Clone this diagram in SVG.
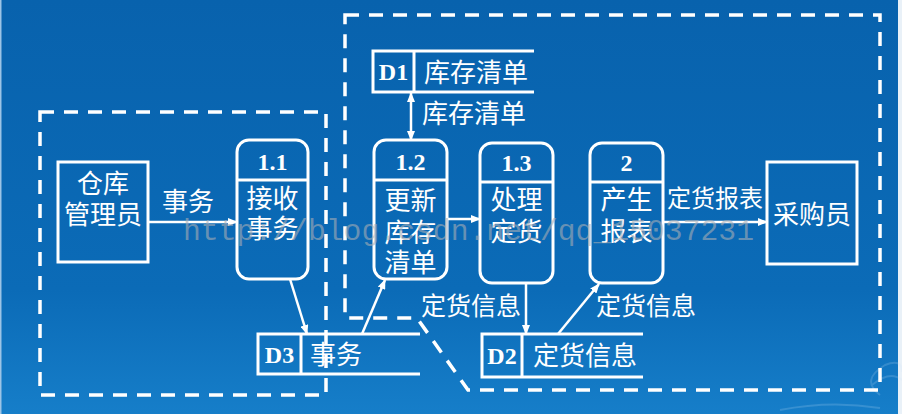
<svg xmlns="http://www.w3.org/2000/svg" width="902" height="414" viewBox="0 0 902 414">
<defs>
<linearGradient id="bg" x1="0" y1="0" x2="0" y2="1">
<stop offset="0" stop-color="#0862ad"/>
<stop offset="0.7" stop-color="#0b6bb7"/>
<stop offset="1" stop-color="#167ec9"/>
</linearGradient>
<marker id="ah" markerWidth="10" markerHeight="8" refX="9" refY="4" orient="auto-start-reverse" markerUnits="userSpaceOnUse">
<path d="M0,0 L10,4 L0,8 Z" fill="#fff"/>
</marker>
<style>
.box{fill:none;stroke:#fff;stroke-width:3}
.ln{fill:none;stroke:#fff;stroke-width:3}
.dash{fill:none;stroke:#fff;stroke-width:3.5;stroke-dasharray:14 10}
.ar{fill:none;stroke:#fff;stroke-width:2.5;marker-end:url(#ah)}
.t{font-family:"Liberation Serif","Noto Sans CJK SC",serif;fill:#fff;font-size:26px;text-anchor:middle}
.s{text-anchor:start}
.l{font-size:25px}
.m{font-size:24px}
.b{font-weight:bold;font-size:24px}
</style>
</defs>
<rect x="0" y="0" width="902" height="414" fill="url(#bg)"/>
<rect x="0" y="0" width="1.5" height="414" fill="#9cc4e6"/>
<rect x="898" y="0" width="4" height="414" fill="#e9f1f8"/>
<g opacity="0.18" fill="none" stroke="#cfe6fb" stroke-width="2">
<path d="M880,395 Q860,380 885,365 Q902,358 902,372"/>
<path d="M780,410 Q830,400 880,408"/>
<path d="M872,385 Q890,370 902,380"/>
</g>

<g id="boundaries">
<rect class="dash" x="40" y="112" width="286" height="283"/>
<path class="dash" d="M345,15 H880 V390 H468 L417,318 H345 Z"/>
</g>

<g id="connectors">
<line class="ar" x1="148" y1="222" x2="237" y2="222"/>
<line class="ar" x1="447" y1="219" x2="480" y2="219"/>
<line class="ar" x1="663" y1="222" x2="767" y2="222"/>
<line class="ar" x1="411" y1="93" x2="411" y2="140" style="marker-start:url(#ah)"/>
<line class="ar" x1="290" y1="279" x2="307" y2="334"/>
<line class="ar" x1="362" y1="334" x2="385" y2="280"/>
<line class="ar" x1="526" y1="283" x2="526" y2="334"/>
<line class="ar" x1="558" y1="334" x2="599" y2="284"/>
<text class="t" x="188" y="211">事务</text>
<text class="t m" x="715" y="207">定货报表</text>
<text class="t s" x="422" y="123">库存清单</text>
<text class="t l s" x="421" y="315">定货信息</text>
<text class="t l s" x="596" y="315">定货信息</text>
</g>

<g id="warehouse-manager">
<rect class="box" x="58" y="162" width="90" height="100"/>
<text class="t" x="103" y="193">仓库</text>
<text class="t" x="103" y="224">管理员</text>
</g>

<g id="p1-1">
<rect class="box" x="237" y="140" width="71" height="139" rx="12"/>
<line class="ln" x1="237" y1="180" x2="308" y2="180"/>
<text class="t b" x="272.5" y="170">1.1</text>
<text class="t" x="272.5" y="208">接收</text>
<text class="t" x="272.5" y="238">事务</text>
</g>

<g id="p1-2">
<rect class="box" x="374" y="140" width="73" height="139" rx="12"/>
<line class="ln" x1="374" y1="180" x2="447" y2="180"/>
<text class="t b" x="410.5" y="170">1.2</text>
<text class="t" x="410.5" y="210">更新</text>
<text class="t" x="410.5" y="242">库存</text>
<text class="t" x="410.5" y="272">清单</text>
</g>

<g id="p1-3">
<rect class="box" x="480" y="143" width="73" height="140" rx="12"/>
<line class="ln" x1="480" y1="182" x2="553" y2="182"/>
<text class="t b" x="516.5" y="171">1.3</text>
<text class="t" x="516.5" y="209">处理</text>
<text class="t" x="516.5" y="241">定货</text>
</g>

<g id="p2">
<rect class="box" x="590" y="143" width="73" height="140" rx="12"/>
<line class="ln" x1="590" y1="182" x2="663" y2="182"/>
<text class="t b" x="626.5" y="171">2</text>
<text class="t" x="626.5" y="209">产生</text>
<text class="t" x="626.5" y="241">报表</text>
</g>

<g id="buyer">
<rect class="box" x="767" y="162" width="90" height="102"/>
<text class="t" x="812" y="224">采购员</text>
</g>

<g id="d1">
<path class="ln" d="M534,51 H373 V92 H534 M414,51 V92"/>
<text class="t b" x="393.5" y="80">D1</text>
<text class="t s" x="424" y="82">库存清单</text>
</g>

<g id="d3">
<path class="ln" d="M420,334 H258 V374 H420 M301,334 V374"/>
<text class="t b" x="279.5" y="363">D3</text>
<text class="t s" x="310" y="364">事务</text>
</g>

<g id="d2">
<path class="ln" d="M643,334 H482 V377 H643 M522,334 V377"/>
<text class="t b" x="502" y="364">D2</text>
<text class="t s" x="533" y="365">定货信息</text>
</g>

<text x="183" y="240" font-family="Liberation Mono, monospace" font-size="30" textLength="571" lengthAdjust="spacingAndGlyphs" fill="#a7adb4" fill-opacity="0.6">http://blog.csdn.net/qq_15037231</text>
</svg>
